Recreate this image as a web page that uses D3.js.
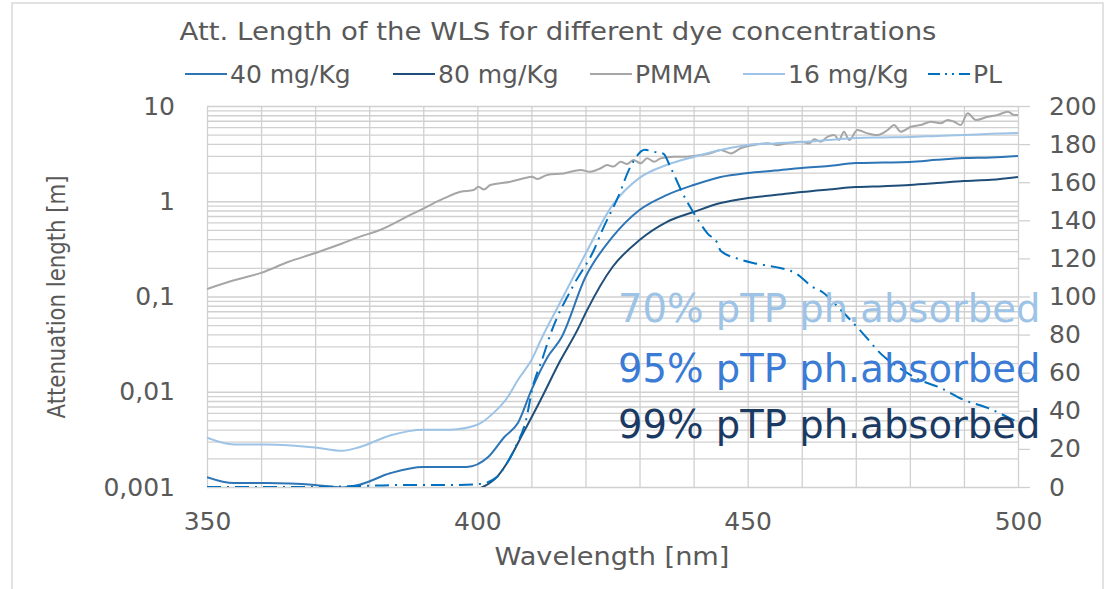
<html>
<head>
  <title>Att. Length of the WLS</title>
  <script src="https://d3js.org/d3.v7.min.js"></script>
  <style>
    body { margin: 0; background: #fff; }
    text { font-family: 'DejaVu Sans', sans-serif; fill: #595959; }
    .grid line { stroke: #d0d0d0; stroke-width: 1.3; }
    .grid .domain { stroke: none; }
    .axis .domain { stroke: none; }
    .axis text { font-size: 25px; fill: #595959; }
  </style>
</head>
<body>
<svg id="chart" width="1110" height="589"></svg>
<script>
  // ---- data ----
  const leftTicks = [0.001, 0.01, 0.1, 1, 10];
  const leftTickLabels = ["0,001", "0,01", "0,1", "1", "10"];
  const bottomTicks = [350, 400, 450, 500];
  const rightTicks = [0, 20, 40, 60, 80, 100, 120, 140, 160, 180, 200];

  const wl16 = [350, 355, 361, 370, 375, 378, 384, 390, 395, 400, 403, 405.5, 407.5, 410, 412, 415, 420, 425, 430, 435, 440, 445, 450, 455, 460, 465, 470, 475, 480, 485, 490, 495, 500];
  const att16 = [0.0033, 0.0028, 0.0028, 0.0026, 0.0024, 0.0026, 0.0035, 0.0040, 0.0040, 0.0045, 0.0060, 0.0086, 0.0133, 0.0215, 0.0376, 0.080, 0.28, 0.91, 1.76, 2.40, 2.92, 3.45, 3.90, 4.05, 4.19, 4.40, 4.62, 4.68, 4.73, 4.85, 4.96, 5.10, 5.21];

  const wl40 = [350, 355, 361, 370, 375, 378, 384, 390, 398, 402, 405, 407.5, 410, 413, 415.5, 420, 425, 430, 435, 440, 445, 450, 455, 460, 465, 470, 475, 480, 485, 490, 495, 500];
  const att40 = [0.00127, 0.0011, 0.0011, 0.00105, 0.00099, 0.00105, 0.0014, 0.00162, 0.00162, 0.00206, 0.00335, 0.0047, 0.0104, 0.0232, 0.0366, 0.160, 0.422, 0.81, 1.16, 1.48, 1.80, 1.98, 2.10, 2.24, 2.35, 2.52, 2.55, 2.58, 2.72, 2.84, 2.88, 2.98];

  const wl80 = [398, 401, 403.6, 405.5, 408.5, 411.7, 415.4, 418.5, 420.3, 425, 430, 435, 440, 445, 450, 455, 460, 465, 470, 475, 480, 485, 490, 495, 500];
  const att80 = [0.0009, 0.001, 0.00127, 0.00179, 0.0037, 0.0082, 0.0215, 0.0444, 0.072, 0.204, 0.392, 0.605, 0.771, 0.959, 1.08, 1.16, 1.25, 1.33, 1.41, 1.44, 1.48, 1.55, 1.63, 1.68, 1.80];

  const wlPMMA = [350, 355, 360, 365, 370, 375, 378.3, 382, 387.6, 390.1, 393.8, 396.9, 399.3, 400.2, 401.2, 402.4, 406.1, 408.6, 410.1, 411.1, 412.9, 416, 419.1, 420.9, 422.8, 424, 425.2, 426.5, 427.7, 428.9, 430.2, 431.4, 432.7, 433.9, 436.4, 438.8, 441.3, 443.1, 445, 446.9, 448.7, 451.2, 453.6, 455.5, 457.3, 459.8, 461.4, 462.3, 463.5, 464.8, 466, 466.9, 467.8, 468.8, 470.3, 472.2, 474, 475.9, 477.1, 478.3, 480.2, 482, 483.9, 485.7, 487, 488.2, 489.4, 490.7, 492.2, 494.4, 496.2, 498.1, 499.3, 500];
  const attPMMA = [0.12, 0.148, 0.177, 0.23, 0.286, 0.36, 0.425, 0.499, 0.718, 0.843, 1.07, 1.26, 1.31, 1.42, 1.33, 1.48, 1.60, 1.74, 1.81, 1.71, 1.89, 1.96, 2.13, 2.04, 2.22, 2.40, 2.31, 2.60, 2.46, 2.71, 2.50, 2.82, 2.60, 2.82, 2.94, 2.94, 3.06, 3.18, 3.45, 3.18, 3.60, 3.90, 4.06, 3.90, 4.06, 4.22, 4.06, 4.47, 4.22, 4.76, 4.96, 4.40, 5.37, 4.40, 5.60, 5.16, 4.96, 5.60, 6.31, 5.37, 6.06, 6.31, 6.84, 6.58, 7.13, 6.84, 6.31, 8.38, 7.13, 7.72, 8.05, 8.71, 8.05, 8.05];

  const wlPL = [350, 360, 370, 378, 385, 395, 400.5, 403.6, 405.5, 407.4, 409, 410.2, 412, 413.5, 417.8, 421.5, 423.3, 426, 428.3, 431, 432.6, 434.4, 435.7, 438, 440, 442.6, 444.4, 445, 448, 451, 453, 456, 459, 462, 464, 466.7, 469, 471.5, 474.6, 477.8, 482, 485.7, 490, 494.4, 499.3, 500];
  const valPL = [0, 0, 0, 0.5, 1, 1, 1.6, 5.2, 12.6, 23, 35, 52, 67, 80, 106, 124, 136, 152, 168, 177, 176, 175, 168, 154, 144, 133, 128, 124, 120, 117.6, 116.5, 115, 112, 105, 102, 94.5, 87.7, 80, 70, 63, 56, 52, 45.7, 41.5, 35, 34];

  const seriesNames = ["40 mg/Kg", "80 mg/Kg", "PMMA", "16 mg/Kg", "PL"];
  const notes = ["70% pTP ph.absorbed", "95% pTP ph.absorbed", "99% pTP ph.absorbed"];

  // ---- layout ----
  const svg = d3.select("svg#chart");
  const plot = { left: 207, right: 1018, top: 106, bottom: 487 };

  const x = d3.scaleLinear().domain([350, 500]).range([plot.left, plot.right]);
  const yL = d3.scaleLog().domain([0.001, 10]).range([plot.bottom, plot.top]);
  const yR = d3.scaleLinear().domain([0, 200]).range([plot.bottom, plot.top]);

  const colors = { "40 mg/Kg": "#2e75b6", "80 mg/Kg": "#1f4e79", "PMMA": "#a6a6a6", "16 mg/Kg": "#9dc3e6", "PL": "#0070c0" };

  // outer frame
  svg.append("rect").attr("x", 12).attr("y", 3).attr("width", 1091).attr("height", 620)
    .attr("fill", "none").attr("stroke", "#d9d9d9").attr("stroke-width", 1.5);

  // gridlines
  svg.append("g").attr("class", "grid")
    .attr("transform", "translate(0," + plot.bottom + ")")
    .call(d3.axisBottom(x).tickValues(d3.range(350, 501, 10)).tickSize(-(plot.bottom - plot.top)).tickFormat(""));
  svg.append("g").attr("class", "grid")
    .attr("transform", "translate(" + plot.left + ",0)")
    .call(d3.axisLeft(yL).tickSize(-(plot.right - plot.left)).tickFormat(""));

  // right axis tick marks (outside)
  svg.append("g").attr("class", "grid")
    .attr("transform", "translate(" + plot.right + ",0)")
    .call(d3.axisRight(yR).tickValues(rightTicks).tickSize(12).tickFormat(""));

  // axes labels
  svg.append("g").attr("class", "axis")
    .attr("transform", "translate(175,0)")
    .call(d3.axisLeft(yL).tickValues(leftTicks).tickSize(0).tickPadding(0)
      .tickFormat((d, i) => leftTickLabels[i]));
  svg.append("g").attr("class", "axis")
    .attr("transform", "translate(0,512)")
    .call(d3.axisBottom(x).tickValues(bottomTicks).tickSize(0).tickPadding(0));
  svg.append("g").attr("class", "axis")
    .attr("transform", "translate(1049,0)")
    .call(d3.axisRight(yR).tickValues(rightTicks).tickSize(0).tickPadding(0));

  // axis titles
  svg.append("text")
    .attr("transform", "translate(65,297) rotate(-90)")
    .attr("text-anchor", "middle").attr("font-size", 25)
    .attr("textLength", 243).attr("lengthAdjust", "spacingAndGlyphs")
    .text("Attenuation length [m]");
  svg.append("text")
    .attr("x", 612).attr("y", 565)
    .attr("text-anchor", "middle").attr("font-size", 25)
    .attr("textLength", 235).attr("lengthAdjust", "spacingAndGlyphs")
    .text("Wavelength [nm]");

  // title
  svg.append("text")
    .attr("x", 558).attr("y", 40)
    .attr("text-anchor", "middle").attr("font-size", 25)
    .attr("textLength", 757).attr("lengthAdjust", "spacingAndGlyphs")
    .text("Att. Length of the WLS for different dye concentrations");

  // curves
  svg.append("clipPath").attr("id", "plotClip")
    .append("rect").attr("x", plot.left).attr("y", plot.top - 2)
    .attr("width", plot.right - plot.left).attr("height", plot.bottom - plot.top + 2);

  const chartArea = svg.append("g").attr("clip-path", "url(#plotClip)");

  const logLine = d3.line().curve(d3.curveMonotoneX).x(d => x(d[0])).y(d => yL(d[1]));
  const plLine = d3.line().curve(d3.curveMonotoneX).x(d => x(d[0])).y(d => yR(d[1]));

  function drawLog(wl, vals, name) {
    chartArea.append("path")
      .datum(d3.zip(wl, vals))
      .attr("d", logLine)
      .attr("fill", "none")
      .attr("stroke", colors[name])
      .attr("stroke-width", 2);
  }
  drawLog(wlPMMA, attPMMA, "PMMA");
  drawLog(wl16, att16, "16 mg/Kg");
  drawLog(wl40, att40, "40 mg/Kg");
  drawLog(wl80, att80, "80 mg/Kg");

  chartArea.append("path")
    .datum(d3.zip(wlPL, valPL))
    .attr("d", plLine)
    .attr("fill", "none")
    .attr("stroke", colors["PL"])
    .attr("stroke-width", 2)
    .attr("stroke-dasharray", "14,6,2,6");

  // legend
  const legendX = [185, 393, 590, 743, 928];
  const legend = svg.append("g").attr("class", "legend");
  const items = legend.selectAll("g").data(seriesNames).enter().append("g")
    .attr("transform", (d, i) => "translate(" + legendX[i] + ",74)");
  items.append("line")
    .attr("x1", 0).attr("x2", 42).attr("y1", 0).attr("y2", 0)
    .attr("stroke", d => colors[d]).attr("stroke-width", 2)
    .attr("stroke-dasharray", d => d === "PL" ? "12,5,2,5,2,5" : null);
  items.append("text")
    .attr("x", 45).attr("y", 9)
    .attr("font-size", 25)
    .text(d => d);

  // annotations
  const noteColors = ["#9dc3e6", "#3a7bd5", "#1b3a63"];
  const noteY = [322, 382, 438];
  svg.selectAll("text.note").data(notes).enter().append("text")
    .attr("class", "note")
    .attr("x", 618).attr("y", (d, i) => noteY[i])
    .attr("font-size", 38.5)
    .style("fill", (d, i) => noteColors[i])
    .text(d => d);
</script>
</body>
</html>
